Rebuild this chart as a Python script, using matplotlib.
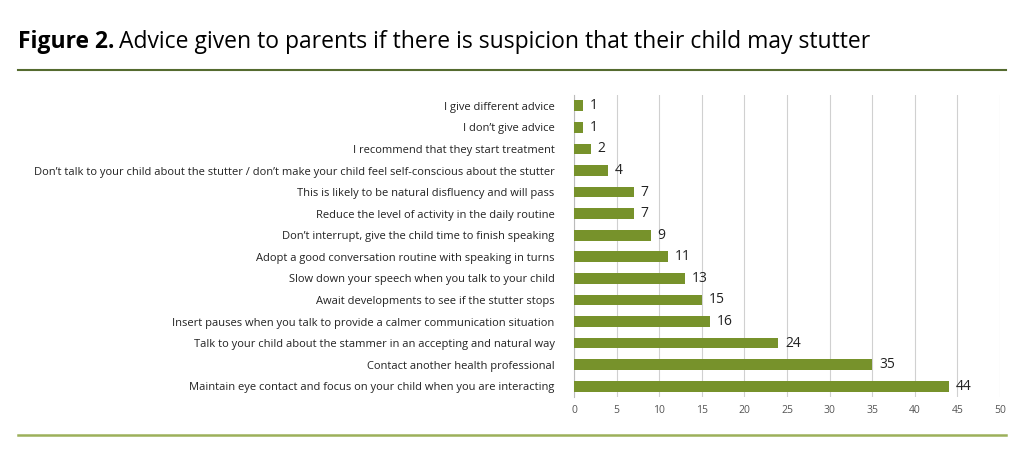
import matplotlib
matplotlib.use("Agg")
import matplotlib.pyplot as plt
from matplotlib.lines import Line2D

plt.rcParams['font.family'] = ['Open Sans', 'DejaVu Sans']

categories = [
    "I give different advice",
    "I don\u2019t give advice",
    "I recommend that they start treatment",
    "Don\u2019t talk to your child about the stutter / don\u2019t make your child feel self-conscious about the stutter",
    "This is likely to be natural disfluency and will pass",
    "Reduce the level of activity in the daily routine",
    "Don\u2019t interrupt, give the child time to finish speaking",
    "Adopt a good conversation routine with speaking in turns",
    "Slow down your speech when you talk to your child",
    "Await developments to see if the stutter stops",
    "Insert pauses when you talk to provide a calmer communication situation",
    "Talk to your child about the stammer in an accepting and natural way",
    "Contact another health professional",
    "Maintain eye contact and focus on your child when you are interacting",
]
values = [1, 1, 2, 4, 7, 7, 9, 11, 13, 15, 16, 24, 35, 44]
xticks = [0, 5, 10, 15, 20, 25, 30, 35, 40, 45, 50]

fig = plt.figure(figsize=(10.24, 4.61), dpi=100)
ax = fig.add_axes([574/1024, 1-397/461, 426/1024, 302/461])
y = list(range(len(categories)))
ax.barh(y, values, height=0.5, color='#77922B', zorder=3)
ax.set_ylim(len(categories)-0.5, -0.5)
ax.set_xlim(0, 50)
ax.set_yticks(y)
ax.set_yticklabels(categories, fontsize=8.0, color='#222222')
ax.set_xticks(xticks)
ax.tick_params(axis='x', labelsize=7.5, colors='#555555', length=0, pad=6)
ax.tick_params(axis='y', length=0, pad=14)
ax.grid(axis='x', color='#D0D0D0', linewidth=0.8, zorder=0)
for s in ['top', 'right', 'bottom']:
    ax.spines[s].set_visible(False)
ax.spines['left'].set_color('#BBBBBB')
for yi, v in zip(y, values):
    ax.text(v + 0.8, yi, str(v), va='center', ha='left', fontsize=10, color='#222222', zorder=4)

t1 = fig.text(18/1024, 1-42/461, "Figure 2.", fontsize=16.5, fontweight='bold', va='center', ha='left')
fig.canvas.draw()
bb = t1.get_window_extent()
fig.text((bb.x1 + 5)/1024, 1-42/461, "Advice given to parents if there is suspicion that their child may stutter",
         fontsize=16.5, va='center', ha='left', color='black')
fig.add_artist(Line2D([18/1024, 1006/1024], [1-70/461]*2, color='#556B2F', linewidth=1.5))
fig.add_artist(Line2D([18/1024, 1006/1024], [1-435/461]*2, color='#9CB05A', linewidth=1.8))
fig.savefig("out.png", dpi=100)
